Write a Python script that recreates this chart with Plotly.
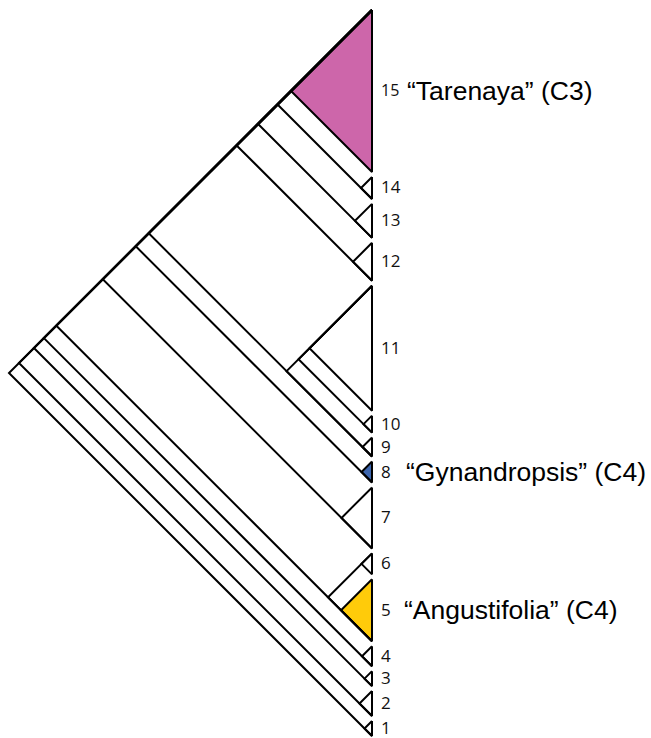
import plotly.graph_objects as go

# Clades listed top to bottom along the tip edge
clade_ids = [15, 14, 13, 12, 11, 10, 9, 8, 7, 6, 5, 4, 3, 2, 1]
# Height of each collapsed clade triangle (proportional to clade size)
clade_size = [162, 22, 34, 38, 125, 17, 19, 21, 61, 21, 62, 20, 15, 25, 15]

# Named clades and their fill colours
named_clades = [15, 8, 5]
named_labels = ["“Tarenaya” (C3)", "“Gynandropsis” (C4)", "“Angustifolia” (C4)"]
named_colors = ["#CD66AA", "#3D66AE", "#FFCB0A"]

# Topology, upper child first
n_1315 = ((15, 14), 13)
n_1215 = (n_1315, 12)
n_0911 = ((11, 10), 9)
n_0915 = (n_1215, n_0911)
n_0815 = (n_0915, 8)
n_0715 = (n_0815, 7)
n_0515 = (n_0715, (6, 5))
n_0415 = (n_0515, 4)
n_0315 = (n_0415, 3)
n_0215 = (n_0315, 2)
tree = (n_0215, 1)

# ---- layout of the slanted cladogram (45 degree branches) ----
TIP_X = 372.0
Y_TOP, Y_BOT = 10.0, 736.0
gap = (Y_BOT - Y_TOP - sum(clade_size)) / (len(clade_size) - 1)

span = {}
y = Y_TOP
for cid, size in zip(clade_ids, clade_size):
    span[cid] = (y, y + size)
    y += size + gap


def apex(top, bot):
    return TIP_X - (bot - top) / 2.0, (top + bot) / 2.0


line_x, line_y = [], []


def layout(node):
    if isinstance(node, tuple):
        t1, _ = layout(node[0])
        _, b2 = layout(node[1])
        top, bot = t1, b2
        ax, ay = apex(top, bot)
        line_x.extend([TIP_X, ax, TIP_X, None])
        line_y.extend([top, ay, bot, None])
        return top, bot
    top, bot = span[node]
    ax, ay = apex(top, bot)
    line_x.extend([TIP_X, ax, TIP_X, TIP_X, None])
    line_y.extend([top, ay, bot, top, None])
    return top, bot


layout(tree)

fig = go.Figure()

# coloured clade triangles
for cid, col in zip(named_clades, named_colors):
    top, bot = span[cid]
    ax, ay = apex(top, bot)
    fig.add_trace(go.Scatter(
        x=[TIP_X, ax, TIP_X, TIP_X], y=[top, ay, bot, top],
        mode="lines", fill="toself", fillcolor=col,
        line=dict(width=0), hoverinfo="skip", showlegend=False))

# branches and clade outlines
fig.add_trace(go.Scatter(
    x=line_x, y=line_y, mode="lines",
    line=dict(color="#000000", width=2),
    hoverinfo="skip", showlegend=False))

annotations = []
for cid in clade_ids:
    top, bot = span[cid]
    annotations.append(dict(
        x=TIP_X + 7, y=(top + bot) / 2.0 - 1, text=str(cid),
        xanchor="left", yanchor="middle", showarrow=False,
        font=dict(family="Open Sans", size=16 if cid == 15 else 17,
                  color="#111111")))
label_x = [TIP_X + 33, TIP_X + 32, TIP_X + 30]
for cid, lab, lx in zip(named_clades, named_labels, label_x):
    top, bot = span[cid]
    annotations.append(dict(
        x=lx, y=(top + bot) / 2.0, text=lab,
        xanchor="left", yanchor="middle", showarrow=False,
        font=dict(family="Liberation Sans", size=26.5, color="#000000")))

fig.update_layout(
    width=651, height=738,
    margin=dict(l=0, r=0, t=0, b=0),
    paper_bgcolor="white", plot_bgcolor="white",
    xaxis=dict(range=[0, 651], visible=False, fixedrange=True),
    yaxis=dict(range=[738, 0], visible=False, fixedrange=True),
    annotations=annotations,
)

fig.write_html("out.html")
